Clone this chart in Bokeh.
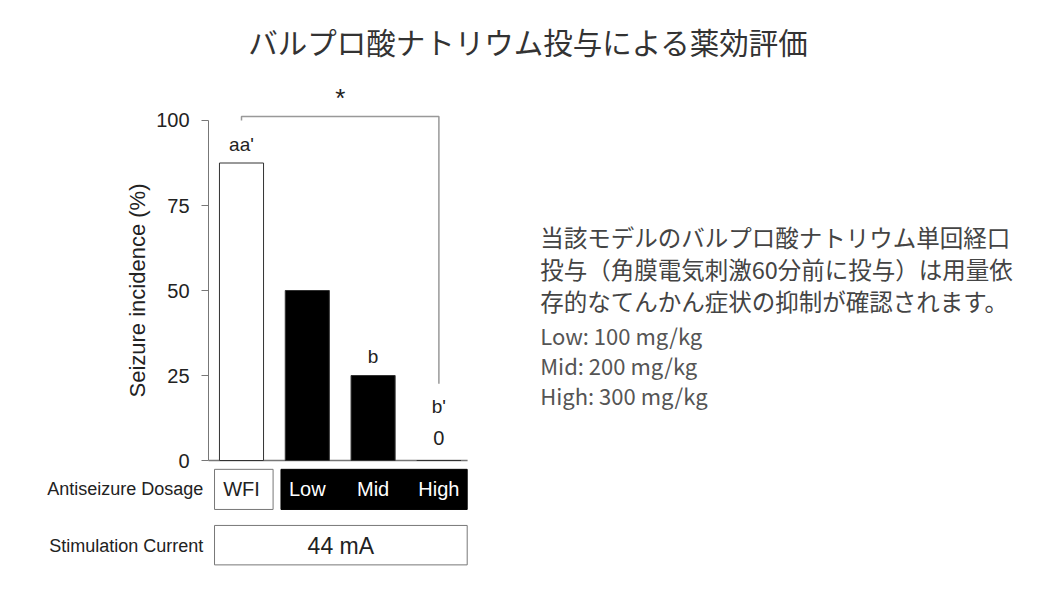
from bokeh.plotting import figure
from bokeh.models import ColumnDataSource, Label, LinearAxis, FixedTicker
from bokeh.core.properties import value
from bokeh.embed import file_html
from bokeh.resources import INLINE

# data
groups = ["WFI", "Low", "Mid", "High"]
incidence = [87.5, 50, 25, 0]
bar_colors = ["white", "black", "black", "black"]
letters = ["aa'", "", "b", "b'"]
y_ticks = [0, 25, 50, 75, 100]
current = "44 mA"
title_text = "バルプロ酸ナトリウム投与による薬効評価"
note_lines = ["当該モデルのバルプロ酸ナトリウム単回経口",
              "投与（角膜電気刺激60分前に投与）は用量依",
              "存的なてんかん症状の抑制が確認されます。"]
dose_lines = ["Low: 100 mg/kg", "Mid: 200 mg/kg", "High: 300 mg/kg"]

LAT = "Liberation Sans"
JP = "Noto Sans CJK JP"
INK = "#222222"

xs = list(range(len(groups)))
src = ColumnDataSource(dict(x=xs, top=incidence, color=bar_colors))

# the frame fills the whole canvas; one category = 65.8 px, one percent = 3.4 px
p = figure(width=1040, height=573, x_range=(-3.6626, 12.143), y_range=(-33.235, 135.294),
           output_backend="svg", toolbar_location=None,
           min_border=0, x_axis_location=None, y_axis_location=None)
p.grid.visible = False
p.outline_line_color = None

# y axis, pinned at the left edge of the bar area
ax = LinearAxis(fixed_location=-0.5, bounds=(0, 100), ticker=FixedTicker(ticks=y_ticks))
ax.minor_tick_line_color = None
ax.major_tick_in = 0
ax.major_tick_out = 7
ax.axis_line_color = "#777777"
ax.major_tick_line_color = "#777777"
ax.major_label_text_font = LAT
ax.major_label_text_font_size = "20px"
ax.major_label_text_color = INK
ax.major_label_standoff = 12
ax.axis_label = "Seizure incidence (%)"
ax.axis_label_text_font = LAT
ax.axis_label_text_font_style = "normal"
ax.axis_label_text_font_size = "22px"
ax.axis_label_text_color = INK
ax.axis_label_standoff = 3
p.add_layout(ax, "left")

# baseline
p.line(x=[-0.5, 3.436], y=[0, 0], line_color="#777777", line_width=1.5)

# bars
p.vbar(x="x", top="top", width=0.67, fill_color="color", line_color="#333333",
       line_width=1, source=src)

# letters above bars
for i, t in enumerate(letters):
    if t:
        off = 5.5 if incidence[i] > 0 else 16
        p.text(x=[i], y=[incidence[i] + off], text=[t], text_align="center",
               text_baseline="middle", text_font=value(LAT),
               text_font_size="19px", text_color=INK)
p.text(x=[3], y=[6.7], text=[str(incidence[3])], text_align="center",
       text_baseline="middle", text_font=value(LAT),
       text_font_size="20px", text_color=INK)

# significance bracket WFI vs High
p.line(x=[0, 0, 3, 3], y=[100, 101.2, 101.2, 22.6], line_color="#999999", line_width=1.5)
p.text(x=[1.5], y=[106.5], text=["*"], text_align="center", text_baseline="middle",
       text_font=value(LAT), text_font_size="26px", text_color=INK)

# dosage row
p.quad(left=[-0.41], right=[0.48], top=[-2.6], bottom=[-14.4],
       fill_color="white", line_color="#777777", line_width=1)
p.quad(left=[0.6], right=[3.43], top=[-2.6], bottom=[-14.4],
       fill_color="black", line_color="black", line_width=1)
p.text(x=xs, y=[-8.5] * 4, text=groups, text_align="center", text_baseline="middle",
       text_font=value(LAT), text_font_size="20px",
       text_color=[INK, "white", "white", "white"])

# stimulation row
p.quad(left=[-0.41], right=[3.43], top=[-19.1], bottom=[-30.7],
       fill_color="white", line_color="#777777", line_width=1)
p.text(x=[1.51], y=[-25], text=[current], text_align="center", text_baseline="middle",
       text_font=value(LAT), text_font_size="23px", text_color=INK)

for txt, yy in [("Antiseizure Dosage", -8.5), ("Stimulation Current", -25)]:
    p.add_layout(Label(x=-0.58, y=yy, text=txt, text_align="right",
                       text_baseline="middle", text_font=LAT,
                       text_font_size="18px", text_color=INK))

# title and notes
p.add_layout(Label(x=4.36, y=123.5, text=title_text, text_align="center",
                   text_baseline="middle", text_font=JP, text_font_size="29.5px",
                   text_color="#333333"))
for k, line in enumerate(note_lines):
    p.add_layout(Label(x=4.54, y=65.8 - k * 9.5, text=line, text_align="left",
                       text_baseline="middle", text_font=JP, text_font_size="23.5px",
                       text_color="#444444"))
for k, line in enumerate(dose_lines):
    p.add_layout(Label(x=4.54, y=36.9 - k * 8.8, text=line, text_align="left",
                       text_baseline="middle", text_font=JP, text_font_size="22px",
                       text_color="#555555"))

open("out.html", "w").write(file_html(p, INLINE))
